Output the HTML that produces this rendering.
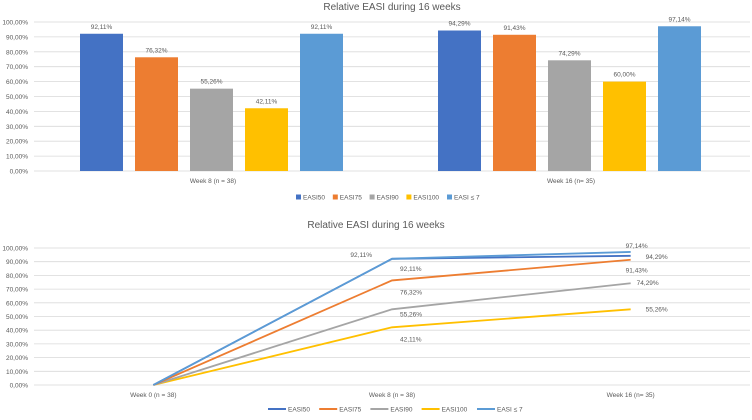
<!DOCTYPE html>
<html><head><meta charset="utf-8"><style>
body{margin:0;background:#fff;font-family:"Liberation Sans",sans-serif}
svg text{font-family:"Liberation Sans",sans-serif;fill:#595959}
</style></head><body>
<svg id="c" width="752" height="415"></svg>
<script>
const seriesNames=["EASI50","EASI75","EASI90","EASI100","EASI ≤ 7"];
const colors=["#4472c4","#ed7d31","#a5a5a5","#ffc000","#5b9bd5"];
const barCategories=["Week 8 (n = 38)","Week 16 (n= 35)"];
const barWeek8=[92.11,76.32,55.26,42.11,92.11];
const barWeek16=[94.29,91.43,74.29,60.00,97.14];
const lineCategories=["Week 0 (n = 38)","Week 8 (n = 38)","Week 16 (n= 35)"];
const lineEASI50=[0,92.11,94.29];
const lineEASI75=[0,76.32,91.43];
const lineEASI90=[0,55.26,74.29];
const lineEASI100=[0,42.11,55.26];
const lineEASI7=[0,92.11,97.14];
const yTicks=[0,10,20,30,40,50,60,70,80,90,100];
const NS="http://www.w3.org/2000/svg";
const svg=document.getElementById('c');
function el(t,a,txt){const e=document.createElementNS(NS,t);for(const k in a)e.setAttribute(k,a[k]);if(txt!==undefined)e.textContent=txt;svg.appendChild(e);return e;}
const fmt=v=>v.toFixed(2).replace('.',',')+'%';
function axes(top,bot,left,right,name){
  const y=v=>bot-(v/100)*(bot-top);
  yTicks.forEach(t=>{
    const g=el('line',{x1:left,x2:right,y1:y(t),y2:y(t),stroke:'#d9d9d9','stroke-width':0.8});
    
    
    const l=el('text',{x:left-6,y:y(t)+2.5,'font-size':6.5,'text-anchor':'end'},fmt(t));
    
    
  });
  return y;
}
function legend(cy,line){
  const w=[50,50,50,56,54];let x=line?268:296;
  seriesNames.forEach((n,i)=>{
    if(line){const m=el('line',{x1:x,x2:x+18,y1:cy,y2:cy,stroke:colors[i],'stroke-width':2});}
    else{const m=el('rect',{x:x,y:cy-2.5,width:5,height:5,fill:colors[i]});}
    const t=el('text',{x:x+(line?20:7),y:cy+2.3,'font-size':6.5},n);
    
    
    x+=line?(n.length*4.2+26):(n.length*3.8+14);
  });
}
// Top bar chart
let t1=el('text',{x:392,y:10,'font-size':10,'text-anchor':'middle'},'Relative EASI during 16 weeks');

const yb=axes(22,171,34,750,'bar-chart');
const barData=[barWeek8,barWeek16];
const bLeft=34,bW=(750-34)/barCategories.length;
barCategories.forEach((c,ci)=>{
  const cx=bLeft+bW*(ci+0.5);
  barData[ci].forEach((v,si)=>{
    const x=cx-133+si*55;
    const r=el('rect',{x:x,y:yb(v),width:43,height:yb(0)-yb(v),fill:colors[si]});
    
    
    const l=el('text',{x:x+21.5,y:yb(v)-5,'font-size':6.5,'text-anchor':'middle'},fmt(v));
    
  });
  const xl=el('text',{x:cx,y:183,'font-size':6.5,'text-anchor':'middle'},c);
  
});
legend(197,false);
// Bottom line chart
let t2=el('text',{x:376,y:228,'font-size':10,'text-anchor':'middle'},'Relative EASI during 16 weeks');

const yl=axes(248,385,34,750,'line-chart');
const lW=(750-34)/lineCategories.length;
const xl=i=>34+lW*(i+0.5);
lineCategories.forEach((c,i)=>{const t=el('text',{x:xl(i),y:397,'font-size':6.5,'text-anchor':'middle'},c);});
const lines=[lineEASI100,lineEASI90,lineEASI75,lineEASI50,lineEASI7];
const order=[3,2,1,0,4];
const labelOff=[[0,0],[0,14],[0,0],[0,14],[0,14]];
lines.forEach((arr,k)=>{
  const si=order[k];
  const p=el('polyline',{points:arr.map((v,i)=>xl(i)+','+yl(v)).join(' '),fill:'none',stroke:colors[si],'stroke-width':1.8});
  
  
});
const lbl=[
 [1,lineEASI7[1],xl(1)-20,yl(lineEASI7[1])-2,'end'],
 [1,lineEASI50[1],xl(1)+8,yl(lineEASI50[1])+12,'start'],
 [1,lineEASI75[1],xl(1)+8,yl(lineEASI75[1])+14,'start'],
 [1,lineEASI90[1],xl(1)+8,yl(lineEASI90[1])+7,'start'],
 [1,lineEASI100[1],xl(1)+8,yl(lineEASI100[1])+14,'start'],
 [2,lineEASI7[2],xl(2)-5,yl(lineEASI7[2])-4,'start'],
 [2,lineEASI50[2],xl(2)+15,yl(lineEASI50[2])+3,'start'],
 [2,lineEASI75[2],xl(2)-5,yl(lineEASI75[2])+13,'start'],
 [2,lineEASI90[2],xl(2)+6,yl(lineEASI90[2])+2,'start'],
 [2,lineEASI100[2],xl(2)+15,yl(lineEASI100[2])+2,'start']
];
lbl.forEach(a=>{const t=el('text',{x:a[2],y:a[3],'font-size':6.5,'text-anchor':a[4]},fmt(a[1]));});
legend(409,true);
</script>
</body></html>
